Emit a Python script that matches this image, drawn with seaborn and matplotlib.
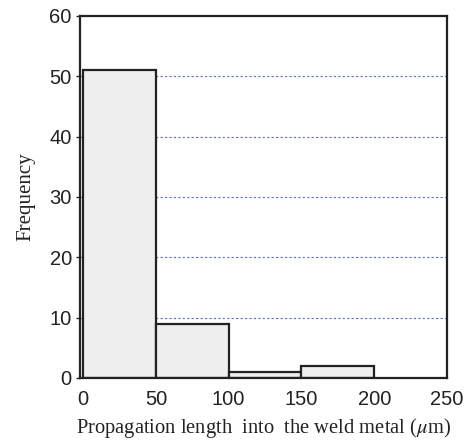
import numpy as np
import matplotlib
matplotlib.use("Agg")
import matplotlib.pyplot as plt
import seaborn as sns

# histogram bins and frequencies
bin_edges = [0, 50, 100, 150, 200]
counts = [51, 9, 1, 2]
x_ticks = [0, 50, 100, 150, 200, 250]
y_ticks = [0, 10, 20, 30, 40, 50, 60]

bin_centers = [(a + b) / 2 for a, b in zip(bin_edges[:-1], bin_edges[1:])]

sns.set_style("ticks")
plt.rcParams['font.family'] = ['Liberation Sans', 'DejaVu Sans']
plt.rcParams['mathtext.fontset'] = 'stix'

fig = plt.figure(figsize=(4.69, 4.43), dpi=100)
ax = fig.add_axes([0.171, 0.147, 0.782, 0.817])

# dotted grid behind the bars
for yv in y_ticks[1:-1]:
    ax.axhline(yv, color='#5a6fd0', linestyle=(0, (2, 2)), linewidth=0.8, zorder=0)

sns.histplot(x=bin_centers, weights=counts, bins=bin_edges, ax=ax,
             color='#eeeeee', edgecolor='#222222', linewidth=1.6, alpha=1, zorder=2)

ax.set_xlim(-2, 249)
ax.set_ylim(0, 60)
ax.set_xticks(x_ticks)
ax.set_yticks(y_ticks)
ax.tick_params(labelsize=14.5, color='#222222', labelcolor='#222222')
ax.tick_params(axis='y', length=3, width=1, pad=3)
ax.tick_params(axis='x', length=0, pad=9)
for s in ax.spines.values():
    s.set_visible(True)
    s.set_linewidth(1.6)
    s.set_color('#222222')

ax.set_xlabel(r'Propagation length  into  the weld metal ($\mu$m)',
              fontfamily='Liberation Serif', fontsize=14.8, color='#222222', labelpad=5)
ax.set_ylabel('Frequency', fontfamily='Liberation Serif', fontsize=15, color='#222222', labelpad=10)

fig.savefig('out.png', dpi=100)
